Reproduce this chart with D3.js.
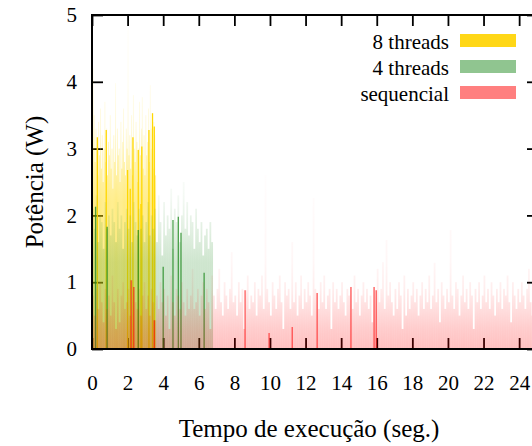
<!DOCTYPE html>
<html>
<head>
<meta charset="utf-8">
<script src="https://cdn.jsdelivr.net/npm/d3@7/dist/d3.min.js"></script>
</head>
<body style="margin:0">
<svg id="chart" width="532" height="446"></svg>
<script>
// power samples (W), 8 threads, one every 0.05 s
const eightThreads = [
  3.1, 4.2, 3.5, 2.8, 3.3, 3.0, 2.6, 3.4, 2.9, 3.6,
  2.7, 3.2, 2.5, 3.0, 3.7, 2.8, 3.3, 2.6, 3.1, 2.9,
  3.5, 2.7, 3.0, 2.4, 3.2, 2.8, 3.98, 2.6, 3.3, 2.9,
  3.0, 2.5, 3.4, 2.7, 3.1, 3.6, 2.8, 2.6, 3.3, 3.0,
  4.78, 2.9, 3.2, 2.7, 3.5, 2.6, 3.8, 3.0, 2.8, 3.4,
  3.1, 2.5, 3.0, 3.7, 2.9, 3.3, 3.77, 2.7, 3.2, 2.6,
  3.5, 2.9, 3.1, 3.6, 2.8, 3.95, 3.3, 3.0, 2.7, 3.4,
  3.2, 2.6
]
// 4 threads, one every 0.1 s
const fourThreads = [
  2.1, 1.8, 2.3, 1.6, 2.0, 1.9, 1.5, 2.2, 1.8, 2.0,
  1.7, 2.1, 1.9, 1.6, 2.2, 1.8, 2.0, 1.5, 1.9, 2.1,
  1.8, 2.0, 1.6, 2.2, 1.9, 1.7, 2.1, 1.8, 2.0, 1.6,
  1.9, 2.2, 1.7, 2.0, 1.8, 2.1, 1.6, 2.3, 1.9, 1.4,
  2.2, 1.7, 2.0, 1.8, 2.4, 1.5, 2.1, 1.9, 2.3, 1.6,
  2.0, 2.5, 1.8, 2.2, 1.7, 2.0, 1.9, 1.5, 2.1, 1.8,
  1.6, 1.9, 1.4, 1.7, 1.8, 1.5, 1.9, 1.6
]
// sequencial, one every 0.1 s
const sequencial = [
  0.8, 0.5, 0.9, 0.6, 1.0, 0.7, 0.4, 0.9, 0.6, 0.8,
  0.5, 1.1, 0.7, 0.3, 0.9, 0.4, 0.8, 1.0, 0.6, 0.7,
  0.9, 0.5, 1.03, 0.93, 0.7, 0.6, 0.9, 0.5, 0.8, 1.0,
  0.6, 0.8, 0.5, 0.9, 0.7, 0.43, 0.8, 0.6, 1.0, 0.7,
  0.9, 0.5, 0.8, 0.3, 1.1, 0.7, 0.5, 0.9, 0.8, 0.6,
  1.0, 0.7, 0.5, 0.9, 0.6, 0.8, 1.2, 0.6, 0.7, 0.9,
  0.5, 0.8, 1.0, 0.6, 0.9, 0.7, 0.3, 1.1, 0.8, 0.6,
  0.9, 1.2, 0.7, 0.5, 1.0, 0.8, 0.6, 0.9, 1.45, 0.7,
  0.8, 0.5, 1.0, 0.7, 0.9, 0.3, 0.88, 1.1, 0.6, 0.8,
  0.7, 1.0, 0.5, 0.9, 0.8, 1.1, 0.6, 2.6, 0.9, 0.7,
  0.5, 1.0, 0.8, 0.6, 0.9, 1.1, 0.7, 0.3, 1.0, 0.8,
  0.9, 0.6, 1.6, 0.7, 1.0, 0.5, 0.8, 1.1, 0.6, 0.9,
  0.7, 1.0, 0.8, 0.5, 2.26, 0.9, 0.84, 0.6, 1.0, 0.7,
  1.1, 0.6, 0.8, 0.9, 0.3, 1.0, 0.7, 0.9, 0.6, 0.8,
  1.0, 0.7, 0.5, 0.9, 0.8, 0.93, 0.6, 1.1, 0.7, 0.9,
  0.5, 0.8, 1.0, 0.7, 0.9, 0.6, 0.8, 0.4, 0.93, 0.88,
  1.2, 0.7, 0.9, 1.3, 0.6, 1.63, 0.8, 1.0, 0.7, 0.5,
  0.9, 0.6, 1.0, 0.8, 0.3, 1.1, 0.5, 0.9, 0.6, 0.8,
  1.0, 0.7, 0.9, 0.5, 0.8, 1.0, 0.6, 0.9, 0.7, 1.1,
  0.6, 0.8, 1.29, 0.7, 0.9, 0.4, 1.0, 0.8, 0.6, 0.9,
  0.7, 1.78, 0.8, 0.6, 1.0, 0.9, 0.5, 0.8, 1.1, 0.7,
  0.9, 0.6, 1.0, 0.8, 0.3, 0.9, 0.7, 1.0, 0.6, 0.8,
  1.1, 0.7, 0.9, 0.6, 1.0, 0.8, 0.5, 0.9, 0.7, 1.0,
  0.6, 0.9, 0.8, 1.1, 0.7, 0.4, 1.0, 0.8, 0.6, 0.9,
  0.7, 1.0, 0.8, 0.6, 0.9, 1.2, 0.7, 0.5, 1.0, 0.8,
  0.9, 0.6
]

// saturated lines (where many samples pile up): time (s) and power (W)
const eightPeakT = [0.3, 0.8, 2.0, 2.15, 2.3, 2.6, 2.75, 2.8, 3.2, 3.4, 3.5]
const eightPeakV = [3.17, 3.28, 2.68, 2.4, 3.17, 2.98, 2.17, 3.03, 3.28, 3.53, 3.33]
const fourPeakT = [0.2, 0.85, 2.6, 4.0, 4.55, 4.85, 5.0, 6.3]
const fourPeakV = [2.13, 1.83, 1.78, 1.23, 1.93, 1.98, 1.74, 1.14]
const seqPeakT = [2.2, 2.35, 3.5, 8.6, 9.95, 11.25, 12.65, 14.55, 15.85, 15.97]
const seqPeakV = [1.03, 0.93, 0.43, 0.88, 0.24, 0.33, 0.84, 0.93, 0.93, 0.88]

const xTicks = [0, 2, 4, 6, 8, 10, 12, 14, 16, 18, 20, 22, 24]
const yTicks = [0, 1, 2, 3, 4, 5]
const legendNames = ['8 threads', '4 threads', 'sequencial']

const series = [
  { name: legendNames[0], values: eightThreads, step: 0.05, peaksT: eightPeakT, peaksV: eightPeakV,
    color: '#ffd700', peakColor: '#ffd700', key: '#ffd717',
    stops: [[0, 0.55], [2.2, 0.5], [2.8, 0.33], [3.3, 0.16], [4, 0.07], [4.8, 0.03]] },
  { name: legendNames[1], values: fourThreads, step: 0.1, peaksT: fourPeakT, peaksV: fourPeakV,
    color: '#228b22', peakColor: 'rgba(34,139,34,0.8)', key: 'rgba(34,139,34,0.5)',
    stops: [[0, 0.26], [1.3, 0.22], [1.8, 0.13], [2.3, 0.05], [2.8, 0.01]] },
  { name: legendNames[2], values: sequencial, step: 0.1, peaksT: seqPeakT, peaksV: seqPeakV,
    color: '#ff0000', peakColor: 'rgba(255,0,0,0.62)', key: 'rgba(255,0,0,0.5)',
    stops: [[0, 0.25], [0.3, 0.2], [0.6, 0.13], [0.9, 0.07], [1.3, 0.035], [2.6, 0.01]] }
]

const svg = d3.select('#chart')
const fontName = 'Liberation Serif'
const margin = { top: 15, right: -6, bottom: 97, left: 92 }
const W = 532, H = 446

const x = d3.scaleLinear().domain([0, 25.06]).range([margin.left, W - margin.right])
const y = d3.scaleLinear().domain([0, 5]).range([H - margin.bottom, margin.top])

const defs = svg.append('defs')
defs.append('clipPath').attr('id', 'plot-clip')
  .append('rect')
  .attr('x', x(0)).attr('y', y(5))
  .attr('width', x(25.06) - x(0)).attr('height', y(0) - y(5))

series.forEach((s, i) => {
  const grad = defs.append('linearGradient')
    .attr('id', 'grad' + i)
    .attr('gradientUnits', 'userSpaceOnUse')
    .attr('x1', 0).attr('x2', 0)
    .attr('y1', y(0)).attr('y2', y(5))
  s.stops.forEach(st => {
    grad.append('stop')
      .attr('offset', st[0] / 5)
      .attr('stop-color', s.color)
      .attr('stop-opacity', st[1])
  })
})

// ticks first, data drawn over them
const tickStyle = g => {
  g.attr('font-family', fontName).attr('font-size', 21)
  g.select('.domain').remove()
  g.selectAll('.tick line').attr('stroke', '#000').attr('stroke-width', 1.8)
  g.selectAll('.tick text')
    .attr('fill', '#000')
    .style('font-family', fontName)
}

svg.append('g')
  .attr('transform', 'translate(0,' + y(0) + ')')
  .call(d3.axisBottom(x).tickValues(xTicks).tickSize(-11).tickPadding(26).tickFormat(d3.format('d')))
  .call(tickStyle)

svg.append('g')
  .attr('transform', 'translate(0,' + y(5) + ')')
  .call(d3.axisTop(x).tickValues(xTicks).tickSize(-11).tickFormat(''))
  .call(tickStyle)

svg.append('g')
  .attr('transform', 'translate(' + x(0) + ',0)')
  .call(d3.axisLeft(y).tickValues(yTicks).tickSize(-11).tickPadding(15).tickFormat(d3.format('d')))
  .call(tickStyle)

svg.append('g')
  .attr('transform', 'translate(' + x(25.06) + ',0)')
  .call(d3.axisRight(y).tickValues(yTicks).tickSize(-11).tickFormat(''))
  .call(tickStyle)

const plot = svg.append('g').attr('clip-path', 'url(#plot-clip)')

series.forEach((s, i) => {
  const w = x(s.step) - x(0)
  plot.append('g')
    .selectAll('rect')
    .data(s.values)
    .join('rect')
    .attr('x', (d, k) => x(k * s.step))
    .attr('y', d => y(d))
    .attr('width', w)
    .attr('height', d => y(0) - y(d))
    .attr('fill', 'url(#grad' + i + ')')

  plot.append('g')
    .selectAll('line')
    .data(s.peaksT)
    .join('line')
    .attr('x1', d => x(d)).attr('x2', d => x(d))
    .attr('y1', y(0))
    .attr('y2', (d, k) => y(s.peaksV[k]))
    .attr('stroke', s.peakColor)
    .attr('stroke-width', 1.3)
})

// border
svg.append('rect')
  .attr('x', x(0)).attr('y', y(5))
  .attr('width', x(25.06) - x(0)).attr('height', y(0) - y(5))
  .attr('fill', 'none')
  .attr('stroke', '#000')
  .attr('stroke-width', 2)

// legend
series.forEach((s, i) => {
  const cy = 40.5 + i * 26
  svg.append('text')
    .attr('x', 449).attr('y', cy + 8.5)
    .attr('text-anchor', 'end')
    .attr('font-size', 21)
    .style('font-family', fontName)
    .text(s.name)
  svg.append('rect')
    .attr('x', 460).attr('y', cy - 6.5)
    .attr('width', 56).attr('height', 13)
    .attr('fill', s.key)
})

// axis titles
svg.append('text')
  .attr('x', 309).attr('y', 437)
  .attr('text-anchor', 'middle')
  .attr('font-size', 25)
  .style('font-family', fontName)
  .text('Tempo de execução (seg.)')

svg.append('text')
  .attr('transform', 'translate(43,' + ((y(0) + y(5)) / 2) + ') rotate(-90)')
  .attr('text-anchor', 'middle')
  .attr('font-size', 25)
  .style('font-family', fontName)
  .text('Potência (W)')
</script>
</body>
</html>
